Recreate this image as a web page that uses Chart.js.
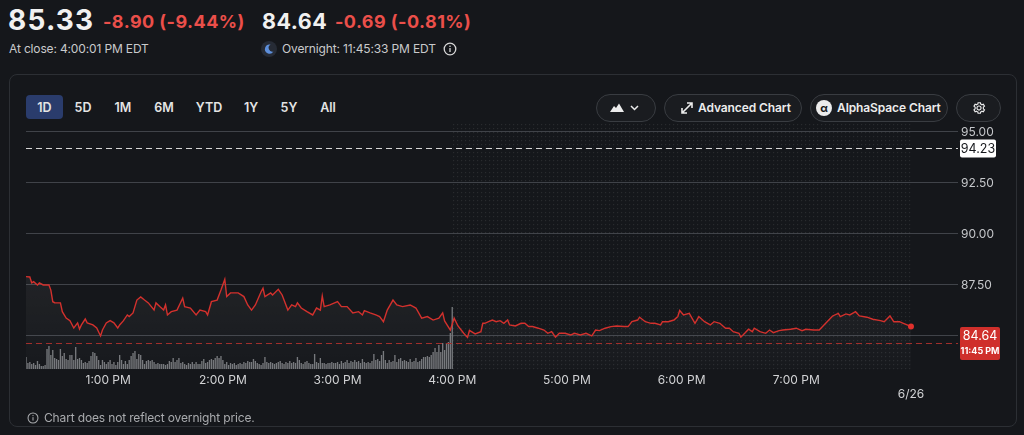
<!DOCTYPE html>
<html>
<head>
<meta charset="utf-8">
<script src="https://cdn.jsdelivr.net/npm/chart.js@4.4.1/dist/chart.umd.min.js"></script>
<style>
  html, body { margin: 0; padding: 0; }
  body { width: 1024px; height: 435px; background: #15171b; overflow: hidden; position: relative;
         font-family: Inter, "Noto Sans", sans-serif; color: #e8e8e8; }
  .abs { position: absolute; white-space: nowrap; line-height: 1; }
  .big { font-weight: 700; color: #f1f1f1; }
  .red { font-weight: 700; color: #eb4f4a; }
  .sub { font-size: 12px; letter-spacing: -0.15px; color: #c9cacc; }
  .card { position: absolute; left: 9px; top: 74px; width: 1006px; height: 351px;
          border: 1px solid #2c2f34; border-radius: 8px; }
  .rng { position: absolute; top: 96px; height: 24px; line-height: 24px; font-size: 12.5px;
         font-weight: 600; color: #e4e4e4; transform: translateX(-50%); }
  .sel { position: absolute; left: 26px; top: 95px; width: 37px; height: 24px; background: #2a3c6c; border-radius: 4px; }
  .pill { position: absolute; top: 94px; height: 26px; border: 1px solid #393c41; border-radius: 14px;
          background: #1a1c20; font-size: 12px; letter-spacing: -0.1px; font-weight: 600; color: #ececec; line-height: 26px; }
  canvas { position: absolute; left: 0; top: 0; }
</style>
</head>
<body>
<div class="card"></div>

<span class="abs big" style="left:8px; top:6px; font-size:28px; letter-spacing:1.2px;">85.33</span>
<span class="abs red" style="left:103px; top:13px; font-size:18px; letter-spacing:0.45px;">-8.90 (-9.44%)</span>
<span class="abs big" style="left:262px; top:11px; font-size:21.5px; letter-spacing:0.5px;">84.64</span>
<span class="abs red" style="left:335px; top:13px; font-size:18px; letter-spacing:0.45px;">-0.69 (-0.81%)</span>
<span class="abs sub" style="left:9px; top:43px;">At close: 4:00:01 PM EDT</span>
<svg class="abs" style="left:261px; top:41px;" width="16" height="16" viewBox="0 0 16 16">
  <circle cx="8" cy="8" r="8" fill="#262b35"/>
  <path d="M9.6 3.6 A4.6 4.6 0 1 0 12.4 10.6 A3.8 3.8 0 0 1 9.6 3.6 Z" fill="#5d8fdc"/>
</svg>
<span class="abs sub" style="left:282px; top:43px;">Overnight: 11:45:33 PM EDT</span>
<svg class="abs" style="left:443px; top:42px;" width="14" height="14" viewBox="0 0 14 14">
  <circle cx="7" cy="7" r="5.8" fill="none" stroke="#d8d8d8" stroke-width="1.3"/>
  <rect x="6.35" y="6" width="1.3" height="4" fill="#d8d8d8"/>
  <circle cx="7" cy="4.2" r="0.8" fill="#d8d8d8"/>
</svg>

<div class="sel"></div>
<span class="rng" style="left:44.5px;">1D</span>
<span class="rng" style="left:83px;">5D</span>
<span class="rng" style="left:123px;">1M</span>
<span class="rng" style="left:164px;">6M</span>
<span class="rng" style="left:209px;">YTD</span>
<span class="rng" style="left:251px;">1Y</span>
<span class="rng" style="left:289px;">5Y</span>
<span class="rng" style="left:328px;">All</span>

<div class="pill" style="left:596px; width:58px;">
  <svg class="abs" style="left:13px; top:8px;" width="14" height="10" viewBox="0 0 14 10">
    <path d="M0 9 L4 3 L6 5 L9 0.5 L14 9 Z" fill="#ececec"/>
  </svg>
  <svg class="abs" style="left:33px; top:10px;" width="9" height="6" viewBox="0 0 9 6">
    <path d="M1 1 L4.5 4.5 L8 1" fill="none" stroke="#ececec" stroke-width="1.5"/>
  </svg>
</div>
<div class="pill" style="left:664px; width:136px;">
  <svg class="abs" style="left:15px; top:6px;" width="14" height="14" viewBox="0 0 14 14">
    <path d="M2 12 L12 2 M7 2 H12 V7 M2 7 V12 H7" fill="none" stroke="#ececec" stroke-width="1.6"/>
  </svg>
  <span class="abs" style="left:33px; top:7px;">Advanced Chart</span>
</div>
<div class="pill" style="left:810px; width:136px;">
  <svg class="abs" style="left:5px; top:5px;" width="16" height="16" viewBox="0 0 16 16">
    <circle cx="8" cy="8" r="8" fill="#ececec"/>
    <text x="8" y="11.6" text-anchor="middle" font-size="11" font-weight="700" font-family="Inter" fill="#15171b">&#945;</text>
  </svg>
  <span class="abs" style="left:26px; top:7px;">AlphaSpace Chart</span>
</div>
<div class="pill" style="left:956px; width:43px;">
  <svg class="abs" style="left:15px; top:6px;" width="14" height="14" viewBox="0 0 24 24">
    <path d="M12 8.5a3.5 3.5 0 1 0 0 7a3.5 3.5 0 1 0 0-7z M19.4 13.5l2 1.6-2 3.4-2.4-1a7.5 7.5 0 0 1-2.2 1.3L14.4 21h-4l-.4-2.2a7.5 7.5 0 0 1-2.2-1.3l-2.4 1-2-3.4 2-1.6a7.5 7.5 0 0 1 0-3L3.4 8.9l2-3.4 2.4 1A7.5 7.5 0 0 1 10 5.2L10.4 3h4l.4 2.2a7.5 7.5 0 0 1 2.2 1.3l2.4-1 2 3.4-2 1.6a7.5 7.5 0 0 1 0 3z" fill="none" stroke="#ececec" stroke-width="2"/>
  </svg>
</div>

<canvas id="chart" width="1024" height="435"></canvas>

<svg class="abs" style="left:27px; top:412px;" width="12" height="12" viewBox="0 0 14 14">
  <circle cx="7" cy="7" r="5.8" fill="none" stroke="#a9abae" stroke-width="1.2"/>
  <rect x="6.4" y="6" width="1.2" height="4" fill="#a9abae"/>
  <circle cx="7" cy="4.2" r="0.75" fill="#a9abae"/>
</svg>
<span class="abs" style="left:44px; top:412px; font-size:12px; letter-spacing:-0.15px; color:#a9abae;">Chart does not reflect overnight price.</span>

<script>
// minutes since midnight, 6/26 session
const times = [737,739,740,741,743,744,746,749,750,751,752,754,755,756,758,760,762,764,765,766,
  768,769,772,774,776,777,779,781,783,785,786,788,790,791,793,795,797,799,801,804,
  805,807,809,810,811,813,816,819,820,823,826,828,831,832,834,837,839,841,842,844,
  848,851,853,855,857,860,861,862,865,866,869,871,874,876,878,879,881,884,887,889,
  891,892,893,896,900,902,905,908,911,913,914,917,920,922,924,926,929,931,934,938,
  941,944,947,950,953,955,956,959,961,963,966,968,969,972,975,976,977,979,981,983,
  985,987,989,990,993,996,998,1000,1002,1005,1008,1010,1012,1014,1016,1019,1022,1024,1027,1030,
  1033,1035,1037,1040,1043,1046,1050,1052,1054,1057,1058,1061,1064,1066,1069,1070,1073,1076,1078,1079,
  1081,1084,1087,1089,1092,1095,1097,1100,1103,1105,1107,1110,1111,1113,1115,1117,1118,1121,1124,1126,
  1128,1131,1133,1137,1140,1143,1145,1149,1152,1154,1157,1159,1162,1163,1166,1168,1171,1173,1177,1180,
  1184,1186,1189,1191,1194,1196,1198,1200];

const prices = [87.91,87.89,87.60,87.66,87.50,87.60,87.50,87.50,87.25,86.68,86.63,86.62,86.62,86.19,85.88,85.75,85.39,85.64,85.34,85.54,
  85.83,85.64,85.54,85.39,85.00,85.29,85.64,85.75,85.64,85.39,85.54,85.75,86.03,85.95,86.13,86.76,86.91,86.76,86.62,86.27,
  86.62,86.44,86.27,86.52,86.03,86.19,86.27,86.86,86.44,86.37,86.03,86.27,86.19,86.03,86.68,86.76,87.25,87.78,86.93,87.11,
  87.11,86.93,86.52,86.27,86.52,87.17,87.34,86.93,87.11,87.01,87.29,87.01,86.27,86.52,86.44,86.62,86.37,86.19,86.03,86.37,
  86.27,86.96,86.44,86.52,86.68,86.44,86.44,86.13,86.19,86.03,86.24,86.13,86.03,85.95,85.70,86.27,86.76,86.52,86.44,86.52,
  86.37,85.87,85.95,85.78,85.87,86.13,85.74,85.29,85.87,85.49,85.13,84.93,85.27,85.10,85.21,85.62,85.62,85.70,85.78,85.70,
  85.75,85.62,85.78,85.54,85.49,85.62,85.62,85.46,85.46,85.38,85.29,85.13,85.21,84.94,85.13,85.13,85.05,85.13,85.05,85.13,
  85.00,85.29,85.26,85.38,85.46,85.49,85.46,85.46,85.70,85.78,85.92,85.70,85.62,85.62,85.54,85.70,85.70,85.78,85.95,86.25,
  86.03,86.11,85.62,85.95,85.70,85.54,85.70,85.62,85.38,85.38,85.21,85.13,84.94,85.13,85.33,85.21,85.38,85.21,85.13,85.29,
  85.16,85.26,85.29,85.33,85.38,85.26,85.33,85.29,85.29,85.49,85.78,85.98,86.11,85.95,86.08,86.03,86.19,85.98,85.92,85.82,
  85.75,85.70,85.98,85.70,85.70,85.62,85.54,85.46];

// one volume bar per minute from 12:17 to 4:00 PM (relative size)
const volStart = 737;
const volumes = [12,6,7,5,6,4,8,5, 3,3,4,20,23,14,19,11, 10,9,20,13,16,10,9,14, 14,9,22,10,11,9,6,7,
  6,8,13,17,16,13,9,4,9, 7,5,7,9,5,7,4,7, 14,9,5,8,5,9,13,16,18, 10,15,14,9,5,8,9,8,
  9,7,5,6,5,5,5,4, 5,8,7,11,7,9,11,6,7, 5,4,6,5,7,5,7,5, 5,8,10,6,7,9,10,9,11, 13,11,13,9,5,7,4,6,5,6,4,5,
  6,5,7,6,8,7,7,10,8,6, 5,4,6,12,7,6,7,6,5,6, 7,8,6,5,7,6,8,6,7,6, 12,9,6,5,7,8,6,5,5,15,
  7,6,11,6,6,5,6,6,7,6, 6,7,5,8,6,7,9,6,8,7,9, 7,8,6,10,7,6,7,6,8,15, 9,10,8,14,18,9,6,9,7,8,
  14,7,10,11,8,9,8,7,10,7, 8,11,7,8,10,12,12,13,12,14, 17,21,17,24,17,26,19,26,27,36, 62];

const xTickTimes = [780, 840, 900, 960, 1020, 1080, 1140, 1200];
const xTickLabels = ['1:00 PM', '2:00 PM', '3:00 PM', '4:00 PM', '5:00 PM', '6:00 PM', '7:00 PM', ['', '6/26']];
const yTicks = [85, 87.5, 90, 92.5, 95];

const prevClose = 94.23;
const lastPrice = 84.64;
const lastTime = '11:45 PM';
const afterHours = [960, 1200];

const linePts = times.map((t, i) => ({ x: t, y: prices[i] }));
const volPts = volumes.map((v, i) => ({ x: volStart + i, y: v }));

const refLines = {
    id: 'refLines',
    beforeDatasetsDraw(chart) {
        const { ctx, chartArea: a, scales: { x } } = chart;
        // dotted after-hours backdrop
        const x0 = Math.round(x.getPixelForValue(afterHours[0]));
        const x1 = Math.round(x.getPixelForValue(afterHours[1]));
        ctx.save();
        ctx.fillStyle = 'rgba(255,255,255,0.085)';
        for (let px = x0 + 1; px < x1; px += 4) {
            for (let py = Math.round(a.top) + 1; py < a.bottom; py += 4) {
                ctx.fillRect(px, py, 1.2, 1.2);
            }
        }
        ctx.restore();
    },
    afterDatasetsDraw(chart) {
        const { ctx, chartArea: a, scales: { y } } = chart;
        const yPrev = Math.round(y.getPixelForValue(prevClose)) + 0.5;
        const yLast = Math.round(y.getPixelForValue(lastPrice)) + 0.5;
        ctx.save();
        ctx.lineWidth = 1;
        ctx.setLineDash([6, 4]);
        ctx.strokeStyle = '#d6d6d6';
        ctx.beginPath(); ctx.moveTo(a.left, yPrev); ctx.lineTo(a.right, yPrev); ctx.stroke();
        ctx.strokeStyle = '#a02f2c';
        ctx.beginPath(); ctx.moveTo(a.left, yLast); ctx.lineTo(a.right, yLast); ctx.stroke();
        ctx.setLineDash([]);

        // previous close tag
        ctx.fillStyle = '#ffffff';
        ctx.beginPath(); ctx.roundRect(a.right + 2, yPrev - 9, 36, 18, 2); ctx.fill();
        ctx.fillStyle = '#15171b';
        ctx.font = '12.5px Inter';
        ctx.textAlign = 'center';
        ctx.textBaseline = 'middle';
        ctx.fillText(prevClose.toFixed(2), a.right + 20, yPrev + 0.5);

        // overnight price tag
        ctx.fillStyle = '#cf2f2b';
        ctx.beginPath(); ctx.roundRect(a.right + 2, yLast - 16.5, 40, 33, 2); ctx.fill();
        ctx.fillStyle = '#ffffff';
        ctx.font = '12.5px Inter';
        ctx.fillText(lastPrice.toFixed(2), a.right + 22, yLast - 7);
        ctx.font = 'bold 9px Inter';
        ctx.fillText(lastTime, a.right + 22, yLast + 8);
        ctx.restore();
    }
};

const cv = document.getElementById('chart');
const g = cv.getContext('2d');
const fillGrad = g.createLinearGradient(0, 270, 0, 369);
fillGrad.addColorStop(0, 'rgba(255,255,255,0.06)');
fillGrad.addColorStop(1, 'rgba(255,255,255,0.01)');

new Chart(cv, {
    data: {
        datasets: [
            {
                type: 'line',
                data: linePts,
                borderColor: '#d3312d',
                borderWidth: 1.4,
                backgroundColor: fillGrad,
                fill: 'start',
                tension: 0,
                pointRadius: ctx => ctx.dataIndex === linePts.length - 1 ? 3 : 0,
                pointBackgroundColor: '#e0302c',
                pointBorderWidth: 0,
                yAxisID: 'y',
                order: 0
            },
            {
                type: 'bar',
                data: volPts,
                backgroundColor: '#75777b',
                barPercentage: 0.7,
                categoryPercentage: 1,
                yAxisID: 'yv',
                order: 1
            }
        ]
    },
    options: {
        responsive: false,
        animation: false,
        events: [],
        layout: { padding: { left: 26, top: 123, right: 16, bottom: 0 } },
        plugins: { legend: { display: false }, tooltip: { enabled: false } },
        scales: {
            x: {
                type: 'linear',
                min: 737,
                max: 1224.6,
                offset: false,
                grid: { display: false, drawTicks: false, offset: false },
                border: { display: false },
                afterBuildTicks: s => { s.ticks = xTickTimes.map(v => ({ value: v })); },
                afterFit: s => { s.height = 66; },
                ticks: {
                    autoSkip: false,
                    maxRotation: 0,
                    padding: 4,
                    color: '#d2d3d5',
                    font: { family: 'Inter', size: 12 },
                    callback: v => xTickLabels[xTickTimes.indexOf(v)]
                }
            },
            y: {
                position: 'right',
                min: 83.38,
                max: 95.44,
                grid: { color: '#404349', drawTicks: false },
                border: { display: false },
                afterBuildTicks: s => { s.ticks = yTicks.map(v => ({ value: v })); },
                afterFit: s => { s.width = 50; },
                ticks: {
                    padding: 3,
                    color: '#c5c7ca',
                    font: { family: 'Inter', size: 12 },
                    callback: v => (v === 85 ? '' : v.toFixed(2))
                }
            },
            yv: {
                display: false,
                min: 0,
                max: 246
            }
        }
    },
    plugins: [refLines]
});
</script>
</body>
</html>
